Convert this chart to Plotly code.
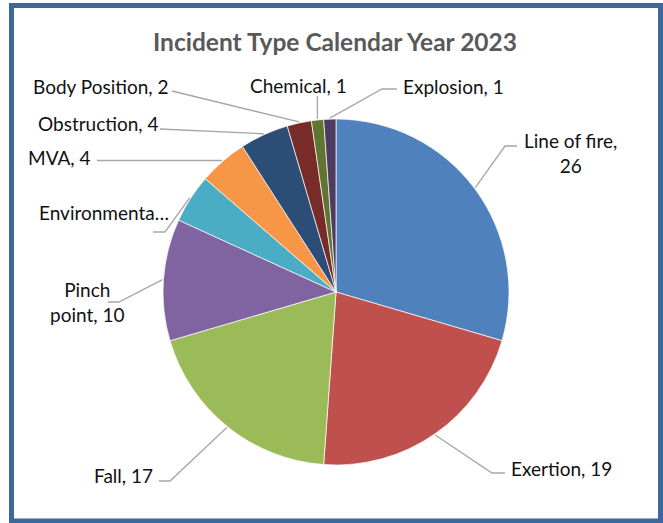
import math
import plotly.graph_objects as go

# ---- data ----
categories = ["Line of fire", "Exertion", "Fall", "Pinch point", "Environmental",
              "MVA", "Obstruction", "Body Position", "Chemical", "Explosion"]
values = [26, 19, 17, 10, 4, 4, 4, 2, 1, 1]
label_texts = ["Line of fire,<br>26", "Exertion, 19", "Fall, 17", "Pinch<br>point, 10",
               "Environmenta…", "MVA, 4", "Obstruction, 4", "Body Position, 2",
               "Chemical, 1", "Explosion, 1"]
colors = ["#4F81BD", "#C0504D", "#9BBB59", "#8064A2", "#4BACC6",
          "#F79646", "#2C4D75", "#772C2A", "#5F7530", "#4D3B62"]
title_text = "Incident Type Calendar Year 2023"

# ---- layout geometry (pixels) ----
W, H = 663, 523
CX, CY, R = 336, 292, 173

def X(px):
    return px / W

def Y(py):
    return 1 - py / H

# label anchor: (x, y, xanchor)
label_pos = [
    (570, 153, "center"),
    (509, 468, "left"),
    (155, 475, "right"),
    (87, 302, "center"),
    (171, 213, "right"),
    (93, 157, "right"),
    (161, 123, "right"),
    (171, 87, "right"),
    (298, 86, "center"),
    (401, 87, "left"),
]
# leader line path after the slice edge point (elbow points)
leader_tail = [
    [(505, 146), (517, 146)],
    [(492, 473), (505, 473)],
    [(170, 481), (159, 481)],
    [(119, 302), (108, 302)],
    [(165, 232), (153, 232)],
    [(97, None)],
    [(160, 129)],
    [(172, 91)],
    [(None, 96)],
    [(382, 89), (397, 89)],
]

fig = go.Figure()
fig.add_trace(go.Pie(
    labels=categories, values=values, sort=False, direction="clockwise", rotation=0,
    marker=dict(colors=colors, line=dict(color="white", width=0.7)),
    textinfo="none", hoverinfo="label+value", showlegend=False,
    domain=dict(x=[X(CX - R), X(CX + R)], y=[Y(CY + R), Y(CY - R)]),
))

total = sum(values)
shapes = []
annotations = []
cum = 0
for i, v in enumerate(values):
    mid = (cum + v / 2) / total * 2 * math.pi
    cum += v
    ex = CX + (R + 1) * math.sin(mid)
    ey = CY - (R + 1) * math.cos(mid)
    pts = [(ex, ey)]
    for (px, py) in leader_tail[i]:
        pts.append((px if px is not None else ex, py if py is not None else ey))
    path = "M " + " L ".join(f"{X(a):.5f},{Y(b):.5f}" for a, b in pts)
    shapes.append(dict(type="path", xref="paper", yref="paper", path=path,
                       line=dict(color="#A6A6A6", width=1.3)))
    lx, ly, xa = label_pos[i]
    annotations.append(dict(x=X(lx), y=Y(ly), xref="paper", yref="paper",
                            text=label_texts[i], showarrow=False, xanchor=xa,
                            yanchor="middle", align="center",
                            font=dict(family="Lato, Liberation Sans, sans-serif",
                                      size=19, color="#111111")))

annotations.append(dict(x=X(335), y=Y(42), xref="paper", yref="paper",
                        text="<b>" + title_text + "</b>", showarrow=False,
                        xanchor="center", yanchor="middle",
                        font=dict(family="Lato, Liberation Sans, sans-serif",
                                  size=24.5, color="#595959")))

# outer frame
shapes.append(dict(type="rect", xref="paper", yref="paper",
                   x0=X(11.5), x1=X(660.5), y0=Y(521), y1=Y(5.5),
                   line=dict(color="#3D679D", width=5), fillcolor="rgba(0,0,0,0)"))

fig.update_layout(width=W, height=H, autosize=False,
                  margin=dict(l=0, r=0, t=0, b=0),
                  paper_bgcolor="white", plot_bgcolor="white",
                  shapes=shapes, annotations=annotations)

fig.write_html("out.html", config={"displayModeBar": False},
               post_script="document.body.style.margin='0';document.body.style.overflow='hidden';")
